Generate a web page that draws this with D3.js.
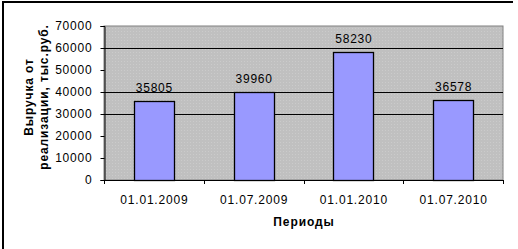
<!DOCTYPE html>
<html>
<head>
<meta charset="utf-8">
<script src="https://cdn.jsdelivr.net/npm/d3@7"></script>
<style>
  body { margin: 0; background: #fff; }
  svg text { font-family: "Liberation Sans", Arial, sans-serif; font-size: 12px; letter-spacing: 0.8px; fill: #000; }
  svg text.title { font-weight: bold; letter-spacing: 0.9px; }
</style>
</head>
<body>
<svg id="chart" width="518" height="249"></svg>
<script>
// chart data
const periods = ["01.01.2009", "01.07.2009", "01.01.2010", "01.07.2010"];
const revenue = [35805, 39960, 58230, 36578];
const yTicks = [0, 10000, 20000, 30000, 40000, 50000, 60000, 70000];
const gridValues = [30000, 40000, 60000];   // only these lines show in the picture
const yTitle = ["Выручка от", "реализации, тыс.руб."];
const xTitle = "Периоды";

const svg = d3.select("#chart");
const plot = { left: 104, top: 26, right: 503, bottom: 180 };

// outer frame (only top and left edges are inside the picture)
svg.append("path")
   .attr("d", "M3,249 V2 H513")
   .attr("fill", "none")
   .attr("stroke", "#000")
   .attr("stroke-width", 2);

// dotted grey background pattern
const pat = svg.append("defs").append("pattern")
   .attr("id", "dots")
   .attr("width", 3).attr("height", 3)
   .attr("patternUnits", "userSpaceOnUse");
pat.append("rect").attr("width", 3).attr("height", 3).attr("fill", "#c0c0c0");
pat.append("rect").attr("x", 1).attr("y", 1).attr("width", 1).attr("height", 1).attr("fill", "#cbcbcb");

const x = d3.scaleBand()
   .domain(periods)
   .range([plot.left, plot.right])
   .paddingInner(0.6)
   .paddingOuter(0.3);

const xEdge = d3.scaleLinear().domain([0, periods.length]).range([plot.left, plot.right]);

const y = d3.scaleLinear()
   .domain([0, 70000])
   .range([plot.bottom, plot.top]);

// plot area
svg.append("rect")
   .attr("x", plot.left)
   .attr("y", plot.top)
   .attr("width", plot.right - plot.left)
   .attr("height", plot.bottom - plot.top)
   .attr("fill", "url(#dots)")
   .attr("stroke", "#808080")
   .attr("stroke-width", 1);

// grid lines
svg.selectAll("line.grid")
   .data(gridValues)
   .enter()
   .append("line")
   .attr("class", "grid")
   .attr("x1", plot.left)
   .attr("x2", plot.right)
   .attr("y1", d => Math.round(y(d)) + 0.5)
   .attr("y2", d => Math.round(y(d)) + 0.5)
   .attr("stroke", "#000");

// bars
svg.selectAll("rect.bar")
   .data(revenue)
   .enter()
   .append("rect")
   .attr("class", "bar")
   .attr("x", (d, i) => Math.round(x(periods[i])) + 0.5)
   .attr("y", d => Math.round(y(d)) + 0.5)
   .attr("width", Math.round(x.bandwidth()))
   .attr("height", d => Math.round(y(0)) - Math.round(y(d)))
   .attr("fill", "#9999ff")
   .attr("stroke", "#000")
   .attr("stroke-width", 1.3);

// value labels
svg.selectAll("text.value")
   .data(revenue)
   .enter()
   .append("text")
   .attr("class", "value")
   .attr("x", (d, i) => x(periods[i]) + x.bandwidth() / 2 + 0.5)
   .attr("y", d => y(d) - 9)
   .attr("text-anchor", "middle")
   .text(d => d);

// y axis
const yAxis = svg.append("g")
   .attr("transform", `translate(${plot.left + 0.5},0)`)
   .call(d3.axisLeft(y).tickValues(yTicks).tickSize(4).tickPadding(8).tickFormat(d3.format("d")));
yAxis.select(".domain").attr("stroke", "#000");
yAxis.selectAll(".tick line").attr("stroke", "#000");
yAxis.selectAll(".tick text").attr("font-family", null).attr("font-size", null).attr("fill", "#000");

// x axis line and tick marks between categories
svg.append("line")
   .attr("x1", plot.left).attr("x2", plot.right)
   .attr("y1", plot.bottom + 0.5).attr("y2", plot.bottom + 0.5)
   .attr("stroke", "#000");
svg.selectAll("line.xtick")
   .data(d3.range(periods.length + 1))
   .enter()
   .append("line")
   .attr("class", "xtick")
   .attr("x1", d => Math.round(xEdge(d)) + 0.5)
   .attr("x2", d => Math.round(xEdge(d)) + 0.5)
   .attr("y1", plot.bottom)
   .attr("y2", plot.bottom + 4)
   .attr("stroke", "#000");

svg.selectAll("text.xlabel")
   .data(periods)
   .enter()
   .append("text")
   .attr("class", "xlabel")
   .attr("x", d => x(d) + x.bandwidth() / 2 + 0.5)
   .attr("y", 204)
   .attr("text-anchor", "middle")
   .text(d => d);

// axis titles
svg.append("text")
   .attr("class", "title")
   .attr("x", (plot.left + plot.right) / 2 + 0.5)
   .attr("y", 226)
   .attr("text-anchor", "middle")
   .text(xTitle);

svg.append("text")
   .attr("class", "title")
   .attr("transform", "translate(33,97) rotate(-90)")
   .attr("text-anchor", "middle")
   .selectAll("tspan")
   .data(yTitle)
   .enter()
   .append("tspan")
   .attr("x", 0)
   .attr("dy", (d, i) => i === 0 ? 0 : 15)
   .text(d => d);
</script>
</body>
</html>
